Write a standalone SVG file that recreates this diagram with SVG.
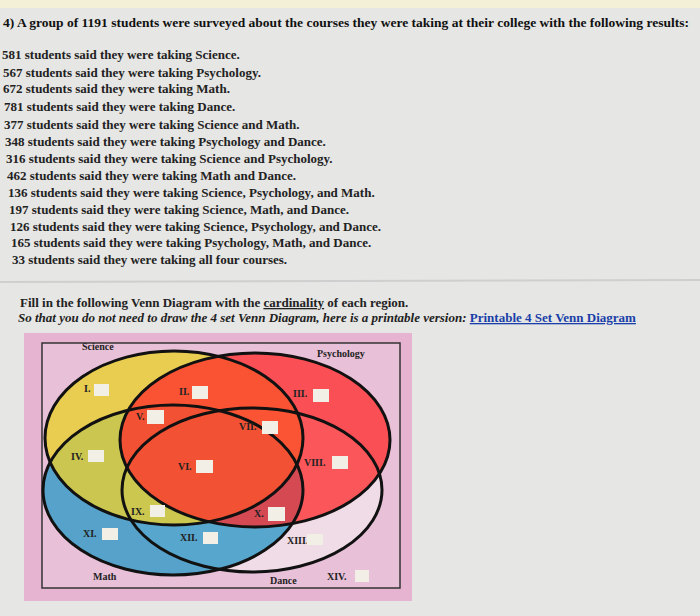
<svg xmlns="http://www.w3.org/2000/svg" width="700" height="616" viewBox="0 0 700 616">
<style>
.t{font-family:"Liberation Serif",serif;font-weight:bold;font-size:13px;fill:#222}
.h{font-family:"Liberation Serif",serif;font-weight:bold;font-size:12.8px;fill:#111}
.l{font-family:"Liberation Serif",serif;font-weight:bold;font-size:10px;fill:#222}
.b{fill:#f2efe6;stroke:none}
.e{stroke:#111;stroke-width:3}
</style>
<rect width="700" height="616" fill="#e6e6e4"/>
<rect x="0" y="0" width="700" height="8" fill="#f4f0d8"/>
<line x1="0" y1="282" x2="700" y2="280" stroke="#cfcfcf" stroke-width="2"/>
<text class="h" x="3" y="27" textLength="686" lengthAdjust="spacingAndGlyphs">4) A group of 1191 students were surveyed about the courses they were taking at their college with the following results:</text>
<g class="t">
<text x="2" y="59">581 students said they were taking Science.</text>
<text x="3" y="77">567 students said they were taking Psychology.</text>
<text x="3" y="93">672 students said they were taking Math.</text>
<text x="4" y="111">781 students said they were taking Dance.</text>
<text x="4" y="129">377 students said they were taking Science and Math.</text>
<text x="5" y="146">348 students said they were taking Psychology and Dance.</text>
<text x="6" y="163">316 students said they were taking Science and Psychology.</text>
<text x="7" y="180">462 students said they were taking Math and Dance.</text>
<text x="8" y="197">136 students said they were taking Science, Psychology, and Math.</text>
<text x="9" y="214">197 students said they were taking Science, Math, and Dance.</text>
<text x="10" y="231">126 students said they were taking Science, Psychology, and Dance.</text>
<text x="11" y="247">165 students said they were taking Psychology, Math, and Dance.</text>
<text x="12" y="264">33 students said they were taking all four courses.</text>
</g>
<text class="t" x="20" y="307" font-size="11.5">Fill in the following Venn Diagram with the <tspan text-decoration="underline">cardinality</tspan> of each region.</text>
<text class="t" x="18" y="322" font-size="11.5" font-style="italic">So that you do not need to draw the 4 set Venn Diagram, here is a printable version: <tspan font-style="normal" fill="#1a3fa8" text-decoration="underline">Printable 4 Set Venn Diagram</tspan></text>
<rect x="24" y="333" width="388" height="268" fill="#e6b4d0"/>
<rect x="42" y="343" width="358" height="245" fill="#e8c0d8" stroke="#333" stroke-width="1.5"/>
<g id="dance"><ellipse cx="252" cy="490" rx="130" ry="82" fill="#f0dce6"/></g>
<g id="math"><ellipse cx="173" cy="490" rx="130" ry="85" fill="#3c9cc8" fill-opacity="0.85"/></g>
<g id="science"><ellipse cx="174" cy="438" rx="129" ry="87" fill="#e8d030" fill-opacity="0.8"/></g>
<g id="psychology"><ellipse cx="255" cy="440" rx="135" ry="87" fill="#ff2a2a" fill-opacity="0.75"/></g>
<g id="outlines" fill="none">
<ellipse class="e" cx="252" cy="490" rx="130" ry="82"/>
<ellipse class="e" cx="173" cy="490" rx="130" ry="85"/>
<ellipse class="e" cx="174" cy="438" rx="129" ry="87"/>
<ellipse class="e" cx="255" cy="440" rx="135" ry="87"/>
</g>
<text class="l" x="82" y="350" font-size="11">Science</text>
<text class="l" x="317" y="357" font-size="11">Psychology</text>
<text class="l" x="93" y="580" font-size="11">Math</text>
<text class="l" x="270" y="584" font-size="11">Dance</text>
<g id="regions">
<text class="l" x="84" y="392">I.</text><rect class="b" x="94" y="384" width="15" height="12"/>
<text class="l" x="179" y="395">II.</text><rect class="b" x="192" y="386" width="16" height="13"/>
<text class="l" x="293" y="397">III.</text><rect class="b" x="313" y="389" width="16" height="13"/>
<text class="l" x="136" y="420">V.</text><rect class="b" x="147" y="410" width="17" height="14"/>
<text class="l" x="239" y="430">VII.</text><rect class="b" x="262" y="421" width="16" height="13"/>
<text class="l" x="71" y="460">IV.</text><rect class="b" x="88" y="450" width="16" height="12"/>
<text class="l" x="178" y="470">VI.</text><rect class="b" x="196" y="460" width="17" height="13"/>
<text class="l" x="304" y="466">VIII.</text><rect class="b" x="332" y="456" width="16" height="13"/>
<text class="l" x="131" y="515">IX.</text><rect class="b" x="150" y="505" width="15" height="12"/>
<text class="l" x="254" y="517">X.</text><rect class="b" x="268" y="507" width="17" height="14"/>
<text class="l" x="83" y="537">XI.</text><rect class="b" x="102" y="528" width="16" height="12"/>
<text class="l" x="180" y="541">XII.</text><rect class="b" x="203" y="532" width="15" height="12"/>
<text class="l" x="287" y="544">XIII.</text><rect class="b" x="307" y="534" width="16" height="11"/>
<text class="l" x="327" y="580">XIV.</text><rect class="b" x="355" y="570" width="14" height="12"/>
</g>
</svg>
